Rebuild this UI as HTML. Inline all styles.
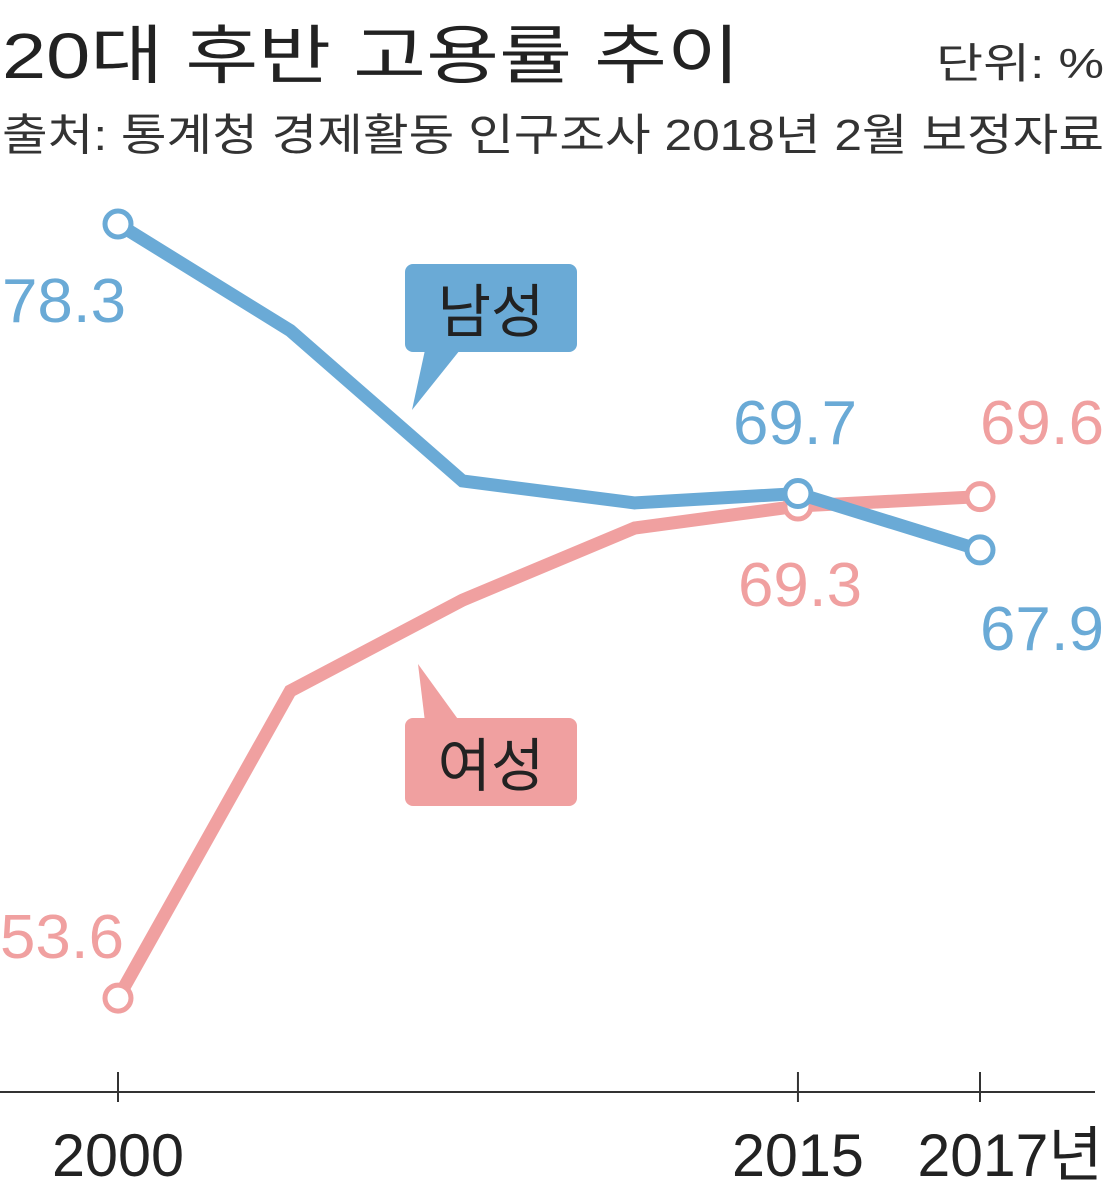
<!DOCTYPE html>
<html><head><meta charset="utf-8"><style>
body{margin:0;background:#fff;}
svg text{font-family:"Liberation Sans","Noto Sans CJK KR",sans-serif;}
</style></head><body>
<svg width="1109" height="1181" viewBox="0 0 1109 1181">
<rect width="1109" height="1181" fill="#fff"/>
<text x="2" y="78" font-size="64" fill="#222" textLength="738" lengthAdjust="spacingAndGlyphs">20대 후반 고용률 추이</text>
<text x="1104" y="78" font-size="42" fill="#333" text-anchor="end" textLength="168" lengthAdjust="spacingAndGlyphs">단위: %</text>
<text x="2" y="150" font-size="44" fill="#333" textLength="1102" lengthAdjust="spacingAndGlyphs">출처: 통계청 경제활동 인구조사 2018년 2월 보정자료</text>
<g id="plot"></g>
</svg>
<script>
const years=[2000,2003.8,2007.6,2011.4,2015,2017];
const male=[78.3,74.9,70.1,69.4,69.7,67.9];
const female=[53.6,63.4,66.3,68.6,69.3,69.6];
const tickYears=[2000,2015,2017];
const tickLabels=['2000','2015','2017년'];
const NS='http://www.w3.org/2000/svg';
const g=document.getElementById('plot');
const xs=y=>y<=2015?118+(y-2000)*45.33:798+(y-2015)*91;
const ys=v=>224+(78.3-v)*31.34;
function mk(t,a){const e=document.createElementNS(NS,t);for(const k in a)e.setAttribute(k,a[k]);g.appendChild(e);return e;}
const axis=mk('line',{x1:0,y1:1092,x2:1095,y2:1092,stroke:'#333','stroke-width':2});


tickYears.forEach((y,i)=>{
 const t=mk('line',{x1:xs(y),y1:1072,x2:xs(y),y2:1102,stroke:'#333','stroke-width':2});
 
 
 const w=i==2?185:132;
 const l=mk('text',{x:xs(y)+(i==2?30:0),y:1176,'font-size':60,fill:'#222','text-anchor':'middle',textLength:w,lengthAdjust:'spacingAndGlyphs'});
 l.textContent=tickLabels[i];
 
 
});
function series(vals,color,name){
 const p=mk('polyline',{points:vals.map((v,i)=>xs(years[i])+','+ys(v)).join(' '),fill:'none',stroke:color,'stroke-width':13,'stroke-linejoin':'miter'});
 
 
 [0,4,5].forEach(i=>{
  const c=mk('circle',{cx:xs(years[i]),cy:ys(vals[i]),r:13,fill:'#fff',stroke:color,'stroke-width':5});
  
  
 });
}
const pink='#f0a0a0',blue='#6aaad6';
series(female,pink,'female');
series(male,blue,'male');
function lab(txt,x,y,color,anchor){
 const t=mk('text',{x:x,y:y,'font-size':62,fill:color,'text-anchor':anchor||'start',textLength:124,lengthAdjust:'spacingAndGlyphs'});
 t.textContent=txt;
 
 
}
lab(male[0].toFixed(1),2,322,blue);
lab(male[4].toFixed(1),795,444,blue,'middle');
lab(male[5].toFixed(1),1104,650,blue,'end');
lab(female[5].toFixed(1),1104,444,pink,'end');
lab(female[4].toFixed(1),800,606,pink,'middle');
lab(female[0].toFixed(1),0,958,pink);
function bubble(txt,x,y,color,tail,name){
 const r=mk('rect',{x:x,y:y,width:172,height:88,rx:8,fill:color});
 
 
 const p=mk('polygon',{points:tail,fill:color});
 
 
 const t=mk('text',{x:x+86,y:y+68,'font-size':58,fill:'#222','text-anchor':'middle'});
 t.textContent=txt;
 
 
}
bubble('남성',405,264,blue,'425,350 460,350 412,410','male');
bubble('여성',405,718,pink,'425,722 460,722 418,664','female');
</script>
</body></html>
